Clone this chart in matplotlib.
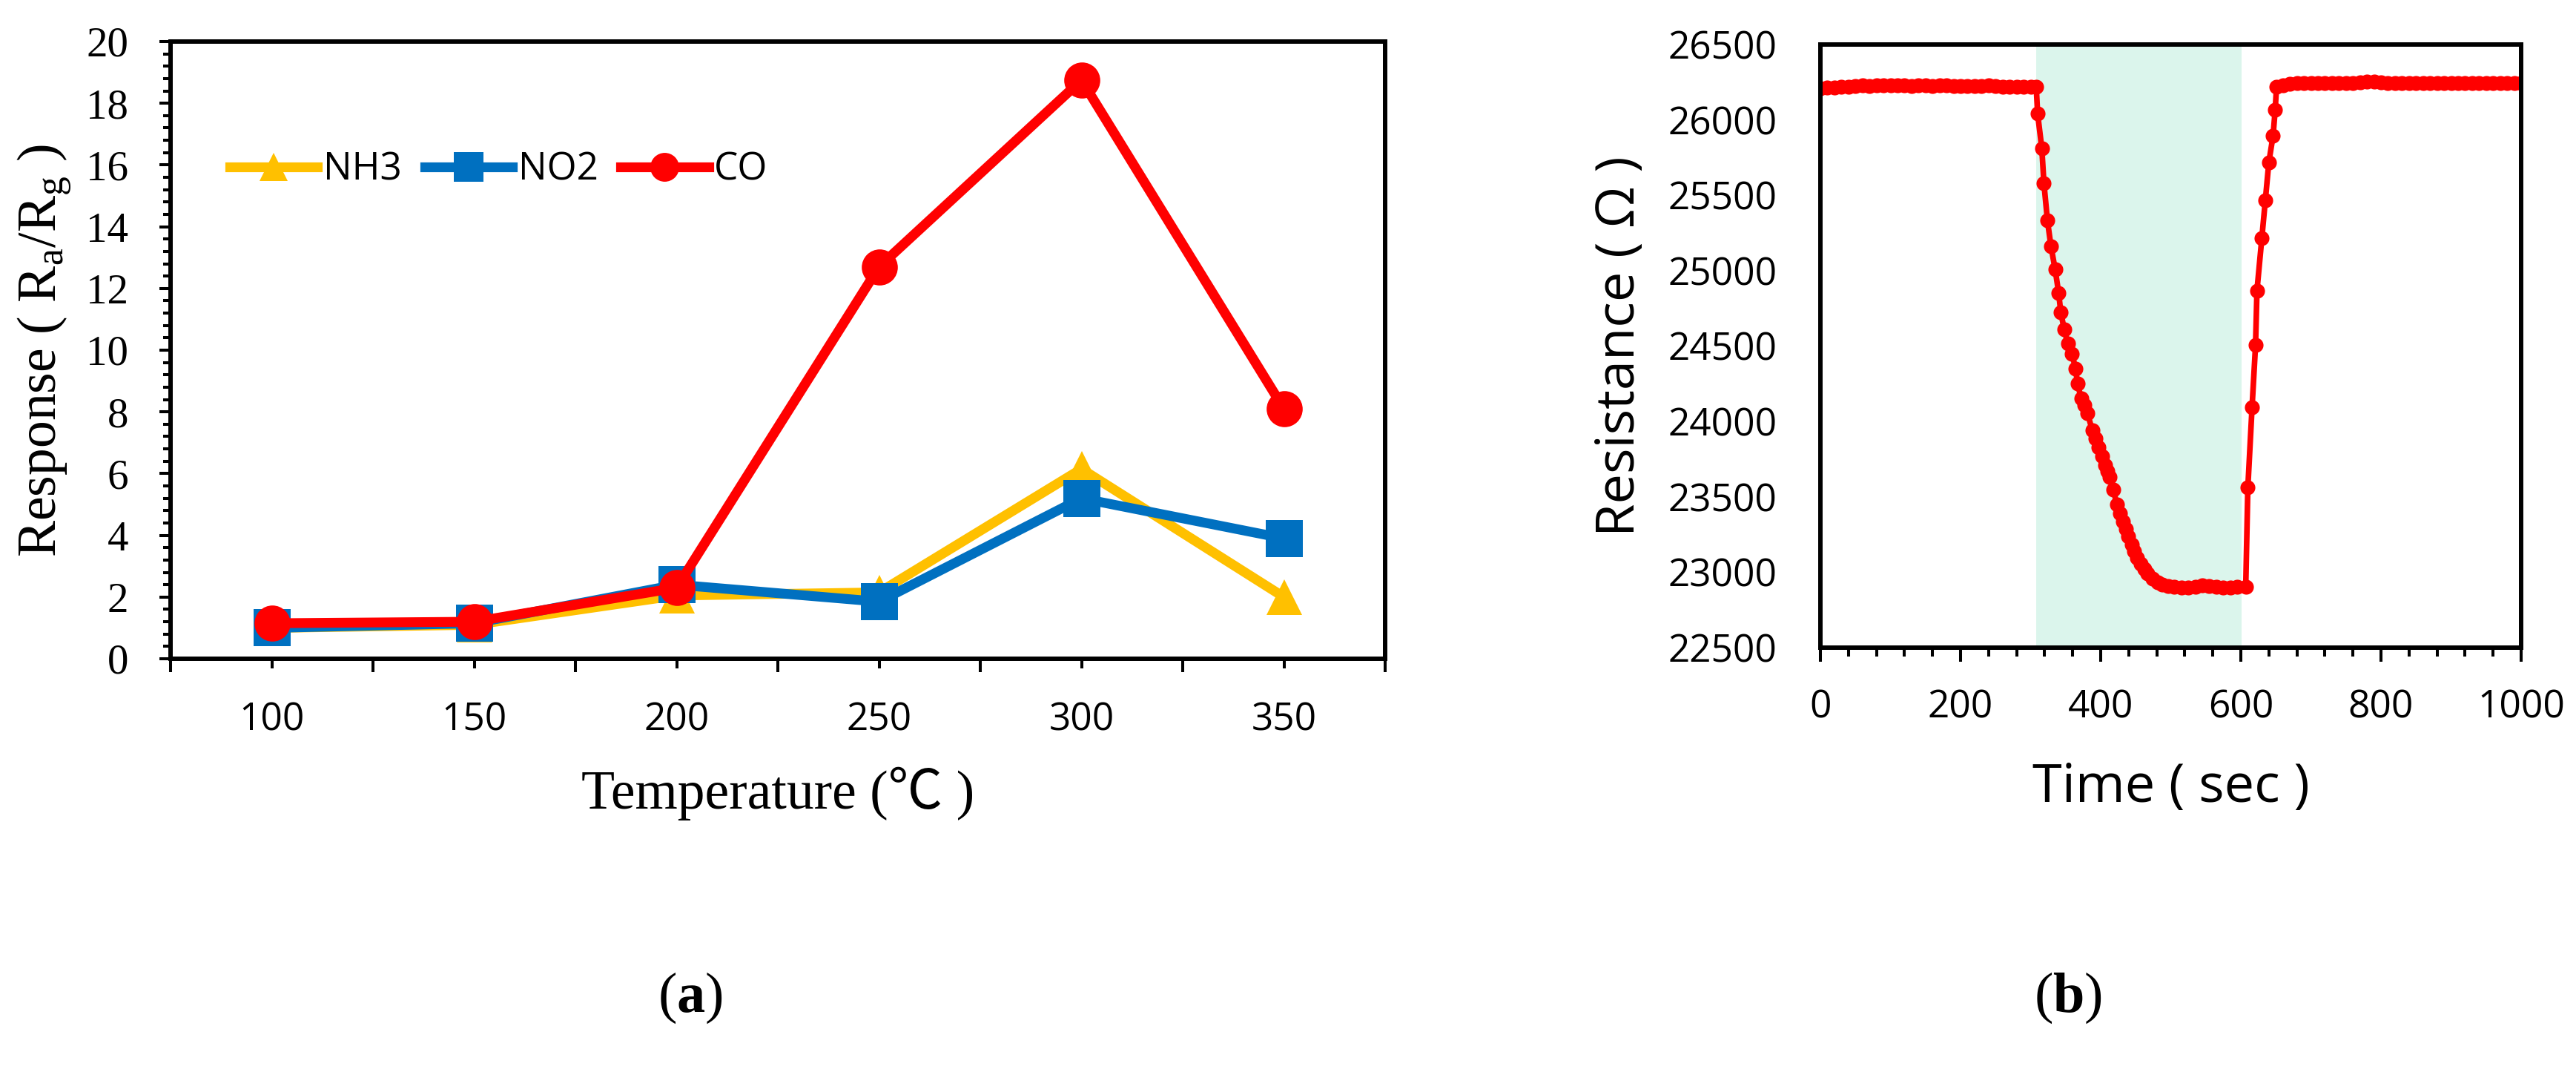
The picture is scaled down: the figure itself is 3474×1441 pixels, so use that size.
import matplotlib.pyplot as plt
from matplotlib.ticker import MultipleLocator, FixedLocator

# --- (a) response vs temperature ---
temps = [100, 150, 200, 250, 300, 350]
nh3 = [1.0, 1.1, 2.05, 2.15, 6.15, 2.0]
no2 = [1.0, 1.15, 2.4, 1.85, 5.2, 3.9]
co = [1.15, 1.2, 2.3, 12.7, 18.75, 8.1]

# --- (b) resistance transient ---
base_t = [0, 10, 20, 30, 40, 50, 60, 70, 80, 90, 100, 110, 120, 130, 140, 150,
          160, 170, 180, 190, 200, 210, 220, 230, 240, 250, 260, 270, 280, 290, 300, 308]
base_r = [26210, 26215, 26215, 26220, 26220, 26225, 26230, 26225, 26230, 26230, 26230,
          26230, 26230, 26225, 26230, 26230, 26225, 26230, 26230, 26225, 26225, 26225,
          26225, 26225, 26230, 26225, 26220, 26220, 26220, 26220, 26220, 26220]
drop_t = [310, 316, 319, 324, 329, 335, 340, 343, 348, 353, 359, 364, 367, 372, 377,
          381, 388, 393, 397, 402, 406, 410, 413, 418, 423, 428, 432, 436, 439, 444,
          448, 452, 457, 462, 467, 474, 481, 488]
drop_r = [26041, 25810, 25579, 25333, 25163, 25009, 24853, 24726, 24609, 24516, 24450,
          24352, 24250, 24155, 24107, 24056, 23942, 23885, 23827, 23770, 23712, 23670,
          23630, 23548, 23450, 23390, 23335, 23285, 23237, 23185, 23138, 23095, 23056,
          23020, 22990, 22960, 22933, 22918]
low_t = [496, 505, 515, 525, 535, 545, 555, 565, 575, 585, 595, 607]
low_r = [22908, 22902, 22900, 22900, 22905, 22915, 22910, 22903, 22900, 22900, 22902, 22905]
rise_t = [610, 616, 621, 623, 630, 635, 640, 646, 649, 651]
rise_r = [23561, 24093, 24507, 24867, 25218, 25469, 25720, 25895, 26066, 26222]
high_t = [660, 670, 680, 690, 700, 710, 720, 730, 740, 750, 760, 770, 780, 790, 800,
          810, 820, 830, 840, 850, 860, 870, 880, 890, 900, 910, 920, 930, 940, 950,
          960, 970, 980, 990, 1000]
high_r = [26230, 26238, 26243, 26245, 26245, 26245, 26245, 26245, 26245, 26245, 26245,
          26248, 26252, 26255, 26250, 26245, 26245, 26245, 26245, 26245, 26245, 26245,
          26245, 26245, 26245, 26245, 26245, 26245, 26245, 26245, 26245, 26245, 26245,
          26245, 26245]
gas_on, gas_off = 308, 601

time_s = base_t + drop_t + low_t + rise_t + high_t
resist = base_r + drop_r + low_r + rise_r + high_r

plt.rcParams['mathtext.default'] = 'regular'
plt.rcParams['mathtext.fontset'] = 'custom'
plt.rcParams['mathtext.rm'] = 'Liberation Serif'
plt.rcParams['mathtext.bf'] = 'Liberation Serif:bold'

serif = ['Liberation Serif', 'Noto Sans CJK SC', 'DejaVu Sans']
sans = ['Open Sans', 'DejaVu Sans']

W, H = 3474, 1441
fig = plt.figure(figsize=(W / 100, H / 100), dpi=100)
ax1 = fig.add_axes([230 / W, 1 - 888 / H, 1638 / W, 832 / H])
ax2 = fig.add_axes([2455 / W, 1 - 873 / H, 945 / W, 813 / H])

# panel (a)
ax1.plot(temps, nh3, color='#FFC000', lw=9.5, marker='^', ms=35, mew=0, label='NH3')
ax1.plot(temps, no2, color='#0070C0', lw=9.5, marker='s', ms=36, mew=0, label='NO2')
ax1.plot(temps, co, color='#FF0000', lw=9.5, marker='o', ms=35, mew=0, label='CO')
ax1.set_xlim(75, 375)
ax1.set_ylim(0, 20)
ax1.xaxis.set_major_locator(FixedLocator(temps))
ax1.xaxis.set_minor_locator(MultipleLocator(50, offset=25))
ax1.yaxis.set_major_locator(MultipleLocator(2))
ax1.yaxis.set_minor_locator(MultipleLocator(0.4))
ax1.tick_params(axis='x', which='major', direction='out', length=9.5, width=2.9, pad=32)
ax1.tick_params(axis='x', which='minor', direction='out', length=13, width=2.9)
ax1.tick_params(axis='y', which='major', direction='out', length=10.8, width=2.9, pad=30)
ax1.tick_params(axis='y', which='minor', direction='out', length=7.2, width=2.9)
for lab in ax1.get_xticklabels():
    lab.set_family(sans)
    lab.set_fontsize(37)
for lab in ax1.get_yticklabels():
    lab.set_family(serif)
    lab.set_fontsize(41)
for sp in ax1.spines.values():
    sp.set_linewidth(4.3)

ax1.set_xlabel('Temperature (℃ )', fontsize=53, family=serif)
ax1.xaxis.label.set_va('center')
ax1.xaxis.set_label_coords(0.5, -0.219)
ax1.set_ylabel('Response ( R$_a$/R$_g$ )', fontsize=53, family=serif)
ax1.yaxis.label.set_va('center')
ax1.yaxis.set_label_coords(-0.104, 0.5)

ax1.legend(loc='center left', bbox_to_anchor=(0.049, 0.792), ncol=3, frameon=False,
           prop={'family': sans, 'size': 37}, handlelength=2.3, handletextpad=0.15,
           columnspacing=0.6, borderpad=0, borderaxespad=0, markerscale=0.8)

# panel (b)
ax2.axvspan(gas_on, gas_off, color='#DBF5EC', lw=0, zorder=0)
ax2.plot(time_s, resist, color='#FF0000', lw=5.5, marker='o', ms=14.5, mew=0)
ax2.set_xlim(0, 1000)
ax2.set_ylim(22500, 26500)
ax2.xaxis.set_major_locator(MultipleLocator(200))
ax2.xaxis.set_minor_locator(MultipleLocator(40))
ax2.yaxis.set_major_locator(MultipleLocator(500))
ax2.tick_params(axis='x', which='major', direction='out', length=14, width=2.9, pad=26)
ax2.tick_params(axis='x', which='minor', direction='out', length=8.6, width=2.9)
ax2.tick_params(axis='y', which='major', length=0, pad=42)
for lab in ax2.get_xticklabels() + ax2.get_yticklabels():
    lab.set_family(sans)
    lab.set_fontsize(37)
for sp in ax2.spines.values():
    sp.set_linewidth(4.3)

ax2.set_xlabel('Time ( sec )', fontsize=52, family=sans)
ax2.xaxis.label.set_va('center')
ax2.xaxis.set_label_coords(0.5, -0.2325)
ax2.set_ylabel('Resistance ( Ω )', fontsize=52, family=sans)
ax2.yaxis.label.set_va('center')
ax2.yaxis.set_label_coords(-0.285, 0.5)

fig.text(931 / W, 1 - 1345 / H, r'($\mathbf{a}$)', fontsize=55, family=serif,
         ha='center', va='center')
fig.text(2789 / W, 1 - 1345 / H, r'($\mathbf{b}$)', fontsize=55, family=serif,
         ha='center', va='center')

fig.savefig('out.png', dpi=100, facecolor='white')
